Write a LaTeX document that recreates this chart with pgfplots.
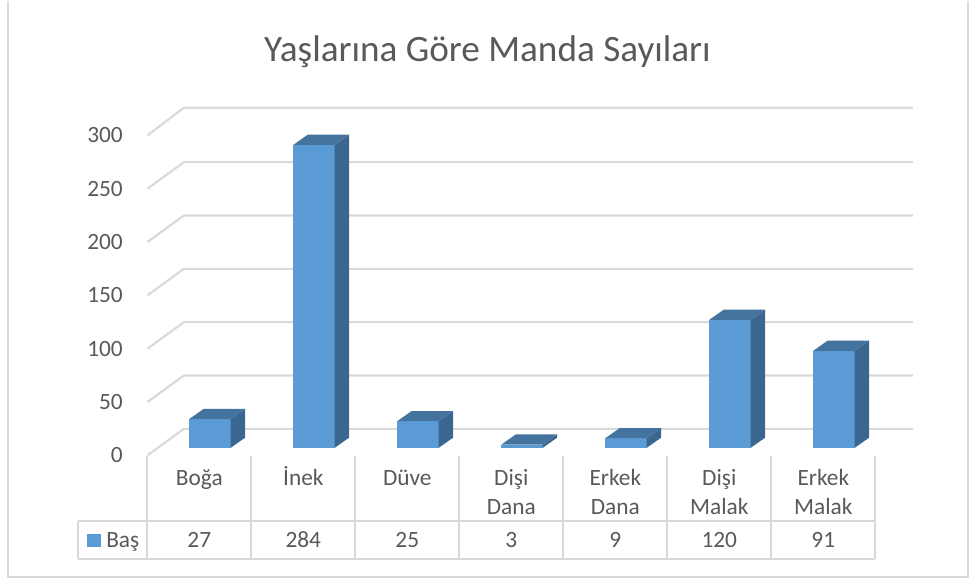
\documentclass[border=0pt]{standalone}
\usepackage{pgfplots}
\pgfplotsset{compat=1.18}
\usepackage{fontspec}
\setmainfont{Carlito}
\definecolor{frontc}{HTML}{5B9BD5}
\definecolor{sidec}{HTML}{3B6690}
\definecolor{topc}{HTML}{44739F}
\definecolor{gridc}{HTML}{D9D9D9}
\definecolor{txt}{HTML}{595959}
\newcommand\lab{\fontsize{17.5}{20}\selectfont}
\begin{document}
\begin{tikzpicture}
\begin{scope}[yshift=434.25pt,x=0.75pt,y=-0.75pt]
\useasboundingbox (0,0) rectangle (969,579);
\end{scope}
\begin{axis}[
  anchor=origin, at={(110.475pt,94.725pt)},
  x=78pt, y=0.8pt,
  xmin=0, xmax=7.4, ymin=0, ymax=330,
  clip=false,
  axis line style={draw=none},
  xtick=\empty,
  ytick={0,50,100,150,200,250,300},
  yticklabels={0,50,100,150,200,250,300},
  major tick length=0pt,
  yticklabel style={font=\lab, text=txt, inner sep=0pt, anchor=east, xshift=-18.2pt},
]
% wall grid lines
\addplot[gridc, line width=1.6pt] coordinates {(0,0) (0.352,25) (7.36,25)};
\addplot[gridc, line width=1.6pt] coordinates {(0,50) (0.352,75) (7.36,75)};
\addplot[gridc, line width=1.6pt] coordinates {(0,100) (0.352,125) (7.36,125)};
\addplot[gridc, line width=1.6pt] coordinates {(0,150) (0.352,175) (7.36,175)};
\addplot[gridc, line width=1.6pt] coordinates {(0,200) (0.352,225) (7.36,225)};
\addplot[gridc, line width=1.6pt] coordinates {(0,250) (0.352,275) (7.36,275)};
\addplot[gridc, line width=1.6pt] coordinates {(0,300) (0.352,326) (7.36,326)};
% Boğa 27
\addplot[fill=frontc, draw=none] coordinates {(0.404,7.2) (0.802,7.2) (0.802,34.2) (0.404,34.2)} -- cycle;
\addplot[fill=sidec, draw=none] coordinates {(0.802,7.2) (0.94,16.7) (0.94,43.7) (0.802,34.2)} -- cycle;
\addplot[fill=topc, draw=none] coordinates {(0.404,34.2) (0.802,34.2) (0.94,43.7) (0.542,43.7)} -- cycle;
% İnek 284
\addplot[fill=frontc, draw=none] coordinates {(1.404,7.2) (1.802,7.2) (1.802,291.2) (1.404,291.2)} -- cycle;
\addplot[fill=sidec, draw=none] coordinates {(1.802,7.2) (1.94,16.7) (1.94,300.7) (1.802,291.2)} -- cycle;
\addplot[fill=topc, draw=none] coordinates {(1.404,291.2) (1.802,291.2) (1.94,300.7) (1.542,300.7)} -- cycle;
% Düve 25
\addplot[fill=frontc, draw=none] coordinates {(2.404,7.2) (2.802,7.2) (2.802,32.2) (2.404,32.2)} -- cycle;
\addplot[fill=sidec, draw=none] coordinates {(2.802,7.2) (2.94,16.7) (2.94,41.7) (2.802,32.2)} -- cycle;
\addplot[fill=topc, draw=none] coordinates {(2.404,32.2) (2.802,32.2) (2.94,41.7) (2.542,41.7)} -- cycle;
% Dişi Dana 3
\addplot[fill=frontc, draw=none] coordinates {(3.404,7.2) (3.802,7.2) (3.802,10.2) (3.404,10.2)} -- cycle;
\addplot[fill=sidec, draw=none] coordinates {(3.802,7.2) (3.94,16.7) (3.94,19.7) (3.802,10.2)} -- cycle;
\addplot[fill=topc, draw=none] coordinates {(3.404,10.2) (3.802,10.2) (3.94,19.7) (3.542,19.7)} -- cycle;
% Erkek Dana 9
\addplot[fill=frontc, draw=none] coordinates {(4.404,7.2) (4.802,7.2) (4.802,16.2) (4.404,16.2)} -- cycle;
\addplot[fill=sidec, draw=none] coordinates {(4.802,7.2) (4.94,16.7) (4.94,25.7) (4.802,16.2)} -- cycle;
\addplot[fill=topc, draw=none] coordinates {(4.404,16.2) (4.802,16.2) (4.94,25.7) (4.542,25.7)} -- cycle;
% Dişi Malak 120
\addplot[fill=frontc, draw=none] coordinates {(5.404,7.2) (5.802,7.2) (5.802,127.2) (5.404,127.2)} -- cycle;
\addplot[fill=sidec, draw=none] coordinates {(5.802,7.2) (5.94,16.7) (5.94,136.7) (5.802,127.2)} -- cycle;
\addplot[fill=topc, draw=none] coordinates {(5.404,127.2) (5.802,127.2) (5.94,136.7) (5.542,136.7)} -- cycle;
% Erkek Malak 91
\addplot[fill=frontc, draw=none] coordinates {(6.404,7.2) (6.802,7.2) (6.802,98.2) (6.404,98.2)} -- cycle;
\addplot[fill=sidec, draw=none] coordinates {(6.802,7.2) (6.94,16.7) (6.94,107.7) (6.802,98.2)} -- cycle;
\addplot[fill=topc, draw=none] coordinates {(6.404,98.2) (6.802,98.2) (6.94,107.7) (6.542,107.7)} -- cycle;
\end{axis}
\begin{scope}[yshift=434.25pt,x=0.75pt,y=-0.75pt]
% frame
\draw[gridc, line width=1.2pt] (8,-2) -- (8,574) -- (968,574) -- (968,-2);
% table
\foreach \k in {0,...,7} {
  \draw[gridc, line width=1.5pt] ({147.3+104*\k},452.7) -- ({147.3+104*\k},556.3);
}
\draw[gridc, line width=1.5pt] (78.3,518.3) -- (875.3,518.3);
\draw[gridc, line width=1.5pt] (78.3,556.3) -- (875.3,556.3);
\draw[gridc, line width=1.5pt] (78.3,518.3) -- (78.3,556.3);
\fill[frontc] (86.7,531) rectangle (100.7,544);
\node[anchor=base west, font=\lab, text=txt, inner sep=0pt] at (106,545) {Baş};
% category labels
\node[anchor=base, font=\lab, text=txt] at (199.3,483) {Boğa};
\node[anchor=base, font=\lab, text=txt] at (303.3,483) {İnek};
\node[anchor=base, font=\lab, text=txt] at (407.3,483) {Düve};
\node[anchor=base, font=\lab, text=txt] at (511.3,483) {Dişi};
\node[anchor=base, font=\lab, text=txt] at (511.3,511.7) {Dana};
\node[anchor=base, font=\lab, text=txt] at (615.3,483) {Erkek};
\node[anchor=base, font=\lab, text=txt] at (615.3,511.7) {Dana};
\node[anchor=base, font=\lab, text=txt] at (719.3,483) {Dişi};
\node[anchor=base, font=\lab, text=txt] at (719.3,511.7) {Malak};
\node[anchor=base, font=\lab, text=txt] at (823.3,483) {Erkek};
\node[anchor=base, font=\lab, text=txt] at (823.3,511.7) {Malak};
% values
\node[anchor=base, font=\lab, text=txt] at (199.3,545) {27};
\node[anchor=base, font=\lab, text=txt] at (303.3,545) {284};
\node[anchor=base, font=\lab, text=txt] at (407.3,545) {25};
\node[anchor=base, font=\lab, text=txt] at (511.3,545) {3};
\node[anchor=base, font=\lab, text=txt] at (615.3,545) {9};
\node[anchor=base, font=\lab, text=txt] at (719.3,545) {120};
\node[anchor=base, font=\lab, text=txt] at (823.3,545) {91};
% title
\node[anchor=base, font=\fontsize{27.9}{33}\selectfont, text=txt] at (487.5,58.3) {Yaşlarına Göre Manda Sayıları};
\end{scope}
\end{tikzpicture}
\end{document}
